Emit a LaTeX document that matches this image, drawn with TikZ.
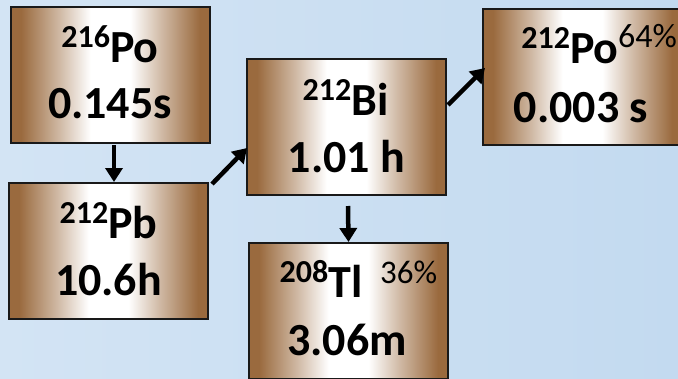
\documentclass[tikz,border=0pt]{standalone}
\usepackage{fontspec}
\setmainfont{Carlito}[Extension=.ttf, UprightFont=*-Regular, BoldFont=*-Bold, ItalicFont=*-Italic, BoldItalicFont=*-BoldItalic]
\usetikzlibrary{arrows.meta,calc}
\definecolor{bgL}{HTML}{D3E4F4}
\definecolor{bgR}{HTML}{C3DAF0}
\definecolor{brn}{HTML}{9A6A3E}
\pgfdeclarehorizontalshading{boxshade}{100bp}{color(0bp)=(brn); color(25bp)=(brn); color(27.5bp)=(brn); color(37.5bp)=(brn!45!white); color(45bp)=(white); color(55bp)=(white); color(62.5bp)=(brn!45!white); color(72.5bp)=(brn); color(75bp)=(brn); color(100bp)=(brn)}
\newcommand{\iso}[2]{{\fontsize{32}{32}\selectfont\raisebox{15pt}{#1}}#2}
\tikzset{
  isobox/.style={draw=black!90, line width=1.5pt, shading=boxshade, minimum width=199pt, minimum height=136pt, anchor=north west, inner sep=0pt, outer sep=0pt},
  big/.style={font=\fontsize{46}{46}\selectfont\bfseries, anchor=base, inner sep=0pt, text=black},
  pct/.style={font=\fontsize{33}{33}\selectfont\mdseries\upshape, anchor=base west, inner sep=0pt, text=black},
  decay/.style={line width=4.5pt, -{Triangle[width=17pt,length=14pt]}},
}
\begin{document}
\begin{tikzpicture}[x=1pt,y=-1pt]
\useasboundingbox (0,0) rectangle (678,378);
\clip (0,0) rectangle (678,378);
\shade[left color=bgL, right color=bgR] (0,0) rectangle (678,378);
% boxes
\node[isobox] (po216) at (11,7) {};
\node[isobox] (pb212) at (9,183) {};
\node[isobox] (bi212) at (247,59) {};
\node[isobox] (tl208) at (249,243) {};
\node[isobox] (po212) at (483,9) {};
% labels
\node[big] (po216n) at (110,62) {\iso{216}{Po}};
\node[big] (po216t) at (110,118) {0.145s};
\node[big] (pb212n) at (108.5,238) {\iso{212}{Pb}};
\node[big] (pb212t) at (108.5,295) {10.6h};
\node[big] (bi212n) at (345.5,115) {\iso{212}{Bi}};
\node[big] (bi212t) at (346.5,172) {1.01 h};
\node[big] (tl208n) at (321,297) {\iso{208}{Tl}};
\node[pct] (tl208p) at (380,283) {36\%};
\node[big] (tl208t) at (347,355) {3.06m};
\node[big] (po212n) at (570,63) {\iso{212}{Po}};
\node[pct, font=\fontsize{34}{34}\selectfont\mdseries\upshape] (po212p) at (618,47) {64\%};
\node[big] (po212t) at (581,122) {0.003 s};
% decays
\draw[decay] ($(po216.south)+(3.5,2)$) -- ($(pb212.north)+(5.5,-1)$);
\draw[decay] ($(pb212.north east)+(4,1)$) -- ($(bi212.west)+(0,21)$);
\draw[decay] ($(bi212.east)+(2,-22)$) -- ($(po212.west)+(2,-9)$);
\draw[decay] ($(bi212.south)+(1.5,11)$) -- ($(tl208.north)+(0,-1)$);
\end{tikzpicture}
\end{document}
